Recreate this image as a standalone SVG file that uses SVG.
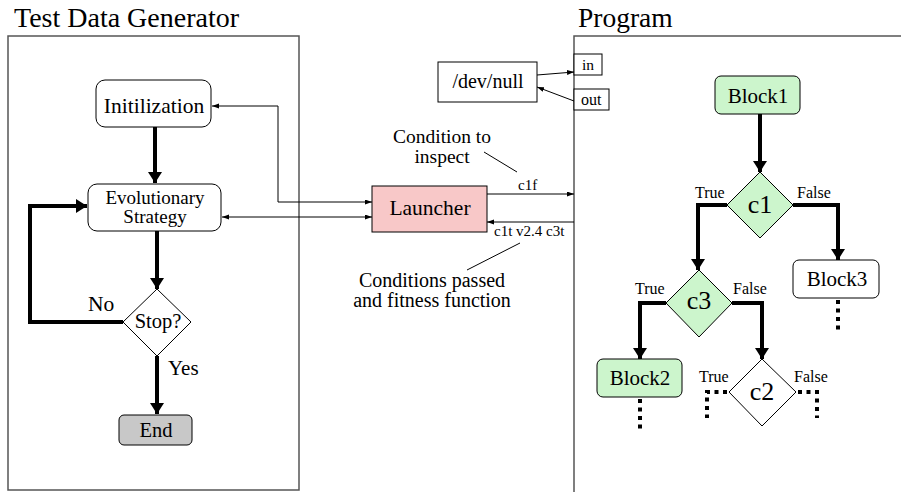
<svg xmlns="http://www.w3.org/2000/svg" width="901" height="492" viewBox="0 0 901 492" font-family="Liberation Serif, Times New Roman, serif">
<defs>
<style>
.frame{fill:none;stroke:#555;stroke-width:1.5}
.box{stroke:#000;stroke-width:1}
.thick{fill:none;stroke:#000;stroke-width:4}
.thin{fill:none;stroke:#000;stroke-width:1}
.dot{fill:none;stroke:#000;stroke-width:4;stroke-dasharray:4 4.5}
.green{fill:#ccf5cc}
.m{text-anchor:middle}
</style>
<marker id="big" markerUnits="userSpaceOnUse" markerWidth="12" markerHeight="14" refX="11" refY="7" orient="auto"><path d="M0,0 L11,7 L0,14 z" fill="#000"/></marker>
<marker id="sm" markerUnits="userSpaceOnUse" markerWidth="8" markerHeight="6" refX="7" refY="2.5" orient="auto-start-reverse"><path d="M0,0 L7,2.5 L0,5 z" fill="#000"/></marker>
</defs>
<rect width="901" height="492" fill="#fff"/>

<g id="generator-frame">
<rect class="frame" x="8" y="36" width="291" height="454"/>
<text x="14" y="27" font-size="28">Test Data Generator</text>
</g>
<g id="program-frame">
<rect class="frame" x="574" y="36" width="340" height="470"/>
<text x="578" y="27" font-size="27.5">Program</text>
</g>

<g id="connectors">
<path class="thick" d="M155,127 V183" marker-end="url(#big)"/>
<path class="thick" d="M157,231 V289" marker-end="url(#big)"/>
<path class="thick" d="M157,356 V414" marker-end="url(#big)"/>
<path class="thick" d="M123,322 H30 V206 H87" marker-end="url(#big)"/>
<path class="thin" d="M372,202 H278 V106 H212" marker-start="url(#sm)" marker-end="url(#sm)"/>
<path class="thin" d="M372,217 H222" marker-start="url(#sm)" marker-end="url(#sm)"/>
<path class="thin" d="M537,75 L574,72" marker-end="url(#sm)"/>
<path class="thin" d="M574,101 L537,87" marker-end="url(#sm)"/>
<path class="thin" d="M487,194 H574" marker-end="url(#sm)"/>
<path class="thin" d="M574,222 H487" marker-end="url(#sm)"/>
<path class="thin" d="M484,152 L517,172"/>
<path class="thin" d="M520,243 L467,270"/>
<path class="thick" d="M760,114 V172" marker-end="url(#big)"/>
<path class="thick" d="M727,205 H698 V270" marker-end="url(#big)"/>
<path class="thick" d="M793,205 H838 V260" marker-end="url(#big)"/>
<path class="thick" d="M666,303 H640 V359" marker-end="url(#big)"/>
<path class="thick" d="M732,303 H762 V359" marker-end="url(#big)"/>
<path class="dot" d="M838,300 V332"/>
<path class="dot" d="M640,399 V429"/>
<path class="dot" d="M727,392 H707 V418"/>
<path class="dot" d="M798,392 H817 V418"/>
<text x="518" y="190" font-size="15">c1f</text>
<text x="494" y="236" font-size="15">c1t v2.4 c3t</text>
<text x="88" y="311" font-size="21.5">No</text>
<text x="168" y="375" font-size="21">Yes</text>
<text x="695" y="198" font-size="16">True</text>
<text x="797" y="198" font-size="16">False</text>
<text x="635" y="294" font-size="16">True</text>
<text x="733" y="294" font-size="16">False</text>
<text x="699" y="382" font-size="16">True</text>
<text x="794" y="382" font-size="16">False</text>
</g>

<g id="initilization">
<rect class="box" x="96" y="80" width="115" height="47" rx="9" fill="#fff"/>
<text class="m" x="154" y="113" font-size="21.5">Initilization</text>
</g>
<g id="evolutionary">
<rect class="box" x="88" y="184" width="133" height="47" rx="9" fill="#fff"/>
<text class="m" x="155" y="204" font-size="19">Evolutionary</text>
<text class="m" x="155" y="223" font-size="19">Strategy</text>
</g>
<g id="stop">
<polygon class="box" points="157,289 191,322 157,356 123,322" fill="#fff"/>
<text class="m" x="158" y="328" font-size="20.5">Stop?</text>
</g>
<g id="end">
<rect class="box" x="119" y="415" width="73" height="30" rx="5" fill="#c8c8c8"/>
<text class="m" x="156" y="437" font-size="20.5">End</text>
</g>
<g id="devnull">
<rect class="box" x="438" y="62" width="99" height="40" fill="#fff"/>
<text class="m" x="488" y="88" font-size="20">/dev/null</text>
</g>
<g id="in">
<rect class="box" x="574" y="54" width="28" height="21" fill="#fff"/>
<text x="582" y="70" font-size="15.5">in</text>
</g>
<g id="out">
<rect class="box" x="574" y="89" width="35" height="21" fill="#fff"/>
<text x="581" y="105" font-size="16">out</text>
</g>
<g id="launcher">
<rect class="box" x="372" y="186" width="115" height="46" fill="#f8c8c8"/>
<text class="m" x="430" y="215" font-size="21.5">Launcher</text>
</g>
<g id="note-condition">
<text class="m" x="442" y="143" font-size="19.5">Condition to</text>
<text class="m" x="442" y="163" font-size="19.5">inspect</text>
</g>
<g id="note-passed">
<text class="m" x="432" y="287" font-size="20">Conditions passed</text>
<text class="m" x="432" y="307" font-size="20">and fitness function</text>
</g>
<g id="block1">
<rect class="box green" x="715" y="76" width="85" height="38" rx="6"/>
<text class="m" x="758" y="103" font-size="21">Block1</text>
</g>
<g id="c1">
<polygon class="box green" points="760,172 793,205 760,238 727,205"/>
<text class="m" x="760" y="213" font-size="26">c1</text>
</g>
<g id="block3">
<rect class="box" x="793" y="260" width="86" height="38" rx="6" fill="#fff"/>
<text class="m" x="837" y="286" font-size="21">Block3</text>
</g>
<g id="c3">
<polygon class="box green" points="699,270 732,303 699,337 666,303"/>
<text class="m" x="699" y="309" font-size="26">c3</text>
</g>
<g id="block2">
<rect class="box green" x="597" y="359" width="85" height="38" rx="6"/>
<text class="m" x="640" y="385" font-size="21">Block2</text>
</g>
<g id="c2">
<polygon class="box" points="762,359 796,392 762,426 729,392" fill="#fff"/>
<text class="m" x="762" y="400" font-size="26">c2</text>
</g>
</svg>
